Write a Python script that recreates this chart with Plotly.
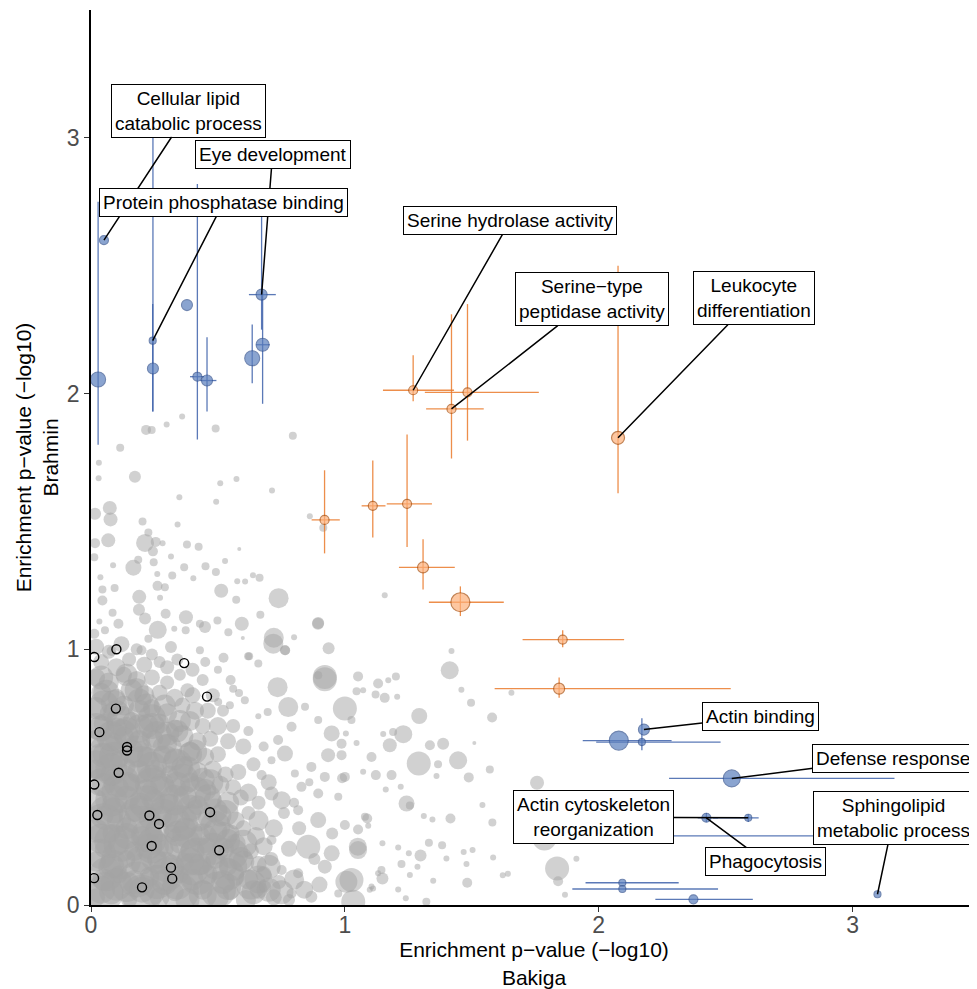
import plotly.graph_objects as go

# ---------------- data ----------------
# background GO terms (x = Bakiga -log10 p, y = Brahmin -log10 p, s = term size)
grey_core = [
(0.02,0.03,9),(0.08,0.05,12),(0.15,0.02,8),(0.20,0.06,13),(0.27,0.03,10),(0.33,0.05,9),(0.38,0.02,12),(0.44,0.06,10),(0.50,0.03,11),(0.55,0.05,8),(0.61,0.02,10),(0.66,0.06,9),(0.72,0.03,8),(0.78,0.02,6),
(0.05,0.10,11),(0.11,0.12,9),(0.17,0.09,12),(0.23,0.11,10),(0.29,0.09,13),(0.35,0.12,9),(0.40,0.10,11),(0.46,0.12,10),(0.52,0.09,12),(0.57,0.11,9),(0.62,0.10,10),(0.68,0.12,8),(0.74,0.09,7),
(0.02,0.17,10),(0.08,0.15,13),(0.14,0.18,9),(0.20,0.16,11),(0.26,0.18,10),(0.32,0.15,12),(0.37,0.17,9),(0.43,0.16,11),(0.49,0.18,10),(0.54,0.15,9),(0.60,0.17,11),(0.66,0.16,8),(0.71,0.18,7),
(0.05,0.22,9),(0.11,0.24,11),(0.17,0.21,10),(0.23,0.23,13),(0.29,0.22,9),(0.35,0.24,10),(0.40,0.21,12),(0.46,0.23,9),(0.52,0.22,11),(0.57,0.24,10),(0.63,0.21,8),(0.68,0.23,9),
(0.02,0.29,12),(0.08,0.28,9),(0.14,0.30,11),(0.20,0.27,10),(0.26,0.29,12),(0.32,0.28,9),(0.37,0.30,11),(0.43,0.27,10),(0.49,0.29,12),(0.55,0.28,9),(0.60,0.30,8),(0.65,0.27,9),
(0.05,0.35,10),(0.11,0.33,12),(0.17,0.36,9),(0.23,0.34,11),(0.28,0.35,10),(0.34,0.33,13),(0.40,0.36,9),(0.46,0.34,10),(0.51,0.35,11),(0.57,0.33,9),(0.62,0.36,7),
(0.02,0.41,11),(0.08,0.40,9),(0.14,0.42,12),(0.19,0.39,10),(0.25,0.41,11),(0.31,0.40,9),(0.37,0.42,12),(0.42,0.39,10),(0.48,0.41,9),(0.54,0.40,11),(0.59,0.42,8),
(0.05,0.47,12),(0.11,0.46,10),(0.16,0.48,9),(0.22,0.45,11),(0.28,0.47,12),(0.34,0.46,9),(0.39,0.48,10),(0.45,0.45,11),(0.51,0.47,9),(0.56,0.46,8),
(0.02,0.53,10),(0.08,0.51,11),(0.14,0.54,9),(0.19,0.52,12),(0.25,0.53,10),(0.31,0.51,9),(0.36,0.54,11),(0.42,0.52,10),(0.48,0.53,9),(0.53,0.51,8),
(0.05,0.59,11),(0.11,0.57,9),(0.16,0.60,12),(0.22,0.58,10),(0.28,0.59,9),(0.33,0.57,11),(0.39,0.60,10),(0.45,0.58,9),(0.50,0.59,8),
(0.02,0.65,9),(0.08,0.63,12),(0.13,0.66,10),(0.19,0.64,11),(0.25,0.65,9),(0.30,0.63,10),(0.36,0.66,11),(0.42,0.64,9),(0.47,0.65,8),
(0.05,0.71,10),(0.10,0.69,11),(0.16,0.72,9),(0.22,0.70,12),(0.27,0.71,10),(0.33,0.69,9),(0.39,0.72,10),(0.44,0.70,8),
(0.02,0.77,11),(0.07,0.75,9),(0.13,0.78,10),(0.19,0.76,11),(0.24,0.77,9),(0.30,0.75,10),(0.36,0.78,8),(0.41,0.76,9),
(0.04,0.83,10),(0.10,0.81,9),(0.16,0.84,11),(0.21,0.82,10),(0.27,0.83,8),(0.33,0.81,9),(0.38,0.84,7),
(0.02,0.89,9),(0.07,0.87,10),(0.13,0.90,8),(0.18,0.88,9),(0.24,0.89,8),(0.30,0.87,7),(0.35,0.90,6),
(0.04,0.95,8),(0.10,0.93,9),(0.15,0.96,7),(0.21,0.94,8),(0.27,0.95,6),
(0.02,1.01,8),(0.07,0.99,7),(0.12,1.02,8),(0.18,1.00,6),(0.24,0.98,6),
(0.04,0.06,14),(0.14,0.07,15),(0.24,0.05,13),(0.34,0.08,15),(0.44,0.04,14),(0.54,0.07,13),(0.64,0.05,12),
(0.09,0.16,14),(0.19,0.18,13),(0.29,0.15,15),(0.39,0.17,14),(0.49,0.15,13),(0.59,0.18,12),
(0.04,0.26,15),(0.14,0.27,13),(0.24,0.25,14),(0.34,0.28,13),(0.44,0.26,15),(0.54,0.25,12),
(0.09,0.37,13),(0.19,0.38,15),(0.29,0.36,14),(0.39,0.38,13),(0.49,0.37,12),
(0.04,0.48,14),(0.14,0.47,13),(0.24,0.49,15),(0.34,0.47,13),(0.44,0.49,12),
(0.09,0.58,15),(0.19,0.59,13),(0.29,0.57,14),(0.39,0.59,12),
(0.04,0.69,13),(0.14,0.68,14),(0.24,0.70,13),(0.34,0.68,11),
(0.09,0.79,13),(0.19,0.80,12),(0.29,0.78,11),
(0.04,0.89,12),(0.14,0.90,11),
(0.06,0.12,17),(0.18,0.10,18),(0.30,0.12,17),(0.42,0.11,18),(0.54,0.12,16),(0.66,0.10,14),
(0.12,0.24,18),(0.24,0.23,17),(0.36,0.24,18),(0.48,0.22,16),(0.60,0.24,14),
(0.06,0.36,17),(0.18,0.35,18),(0.30,0.37,17),(0.42,0.35,16),(0.53,0.36,13),
(0.12,0.48,18),(0.24,0.47,17),(0.36,0.49,16),(0.47,0.48,13),
(0.06,0.60,17),(0.18,0.60,16),(0.30,0.61,15),(0.41,0.60,12),
(0.12,0.72,15),(0.24,0.73,14),(0.35,0.72,11),
(0.06,0.83,13),(0.18,0.84,12),
(0.04,0.20,15),(0.02,0.55,14),(0.02,0.70,13),
(0.05,0.05,20),(0.20,0.04,20),(0.35,0.05,19),(0.50,0.06,18),(0.63,0.08,15),
(0.12,0.18,20),(0.27,0.20,20),(0.42,0.19,19),(0.56,0.20,15),
(0.05,0.32,20),(0.20,0.31,20),(0.35,0.32,18),(0.49,0.31,15),
(0.12,0.44,20),(0.27,0.43,19),(0.41,0.44,16),
(0.05,0.56,19),(0.20,0.55,18),(0.34,0.55,15),
(0.12,0.66,17),(0.26,0.66,15),
(0.05,0.78,15),(0.70,0.15,12),(0.75,0.05,12),(0.80,0.10,10),(0.66,0.33,10),
(0.10,0.08,16),(0.26,0.09,17),(0.40,0.14,16),(0.56,0.15,14),(0.70,0.06,12),
(0.08,0.25,17),(0.22,0.27,16),(0.38,0.28,15),(0.52,0.27,14),
(0.08,0.41,16),(0.22,0.40,17),(0.33,0.41,15),(0.46,0.42,13),
(0.08,0.53,16),(0.24,0.54,15),(0.38,0.53,13),
(0.08,0.66,15),(0.19,0.69,14),(0.30,0.67,12),
(0.10,0.75,13),(0.22,0.78,12),
]

grey_mid = [
(0.72,0.30,9),(0.78,0.22,8),(0.82,0.30,7),(0.76,0.36,6),(0.70,0.48,8),(0.64,0.55,7),(0.60,0.62,8),(0.56,0.70,7),(0.52,0.76,6),(0.48,0.82,7),
(0.44,0.88,6),(0.40,0.92,7),(0.34,0.96,6),(0.84,0.06,9),(0.90,0.08,8),(0.88,0.18,6),(0.95,0.28,6),(0.62,0.44,9),(0.58,0.52,8),(0.66,0.40,7),
(0.54,0.64,8),(0.50,0.70,9),(0.46,0.76,8),(0.40,0.82,8),(0.30,0.93,7),(0.80,0.40,5),(0.86,0.48,4),(0.68,0.62,5),(0.62,0.68,5),(0.55,0.88,5),
(0.50,0.92,4),(0.45,0.95,5),
]

grey_halo = [
(0.359,1.910,3),(0.298,1.879,3),(0.217,1.858,5),(0.239,1.858,4),(0.491,1.863,4),(0.795,1.835,4),(0.115,1.788,4),(0.031,1.729,3),(0.030,1.669,3),(0.173,1.675,6),
(0.509,1.649,3),(0.573,1.666,3),(0.713,1.621,3),(0.348,1.595,3),(0.493,1.577,3),(0.074,1.553,7),(0.016,1.53,6),(0.077,1.508,7),(0.203,1.5,4),(0.341,1.488,3),
(0.226,1.457,4),(0.068,1.426,7),(0.213,1.416,9),(0.255,1.420,5),(0.016,1.415,5),(0.244,1.383,5),(0.378,1.410,4),(0.424,1.401,4),(0.282,1.415,3),(0.584,1.392,2),
(0.013,1.36,4),(0.186,1.35,4),(0.315,1.363,3),(0.087,1.329,3),(0.167,1.319,8),(0.247,1.34,4),(0.367,1.321,4),(0.528,1.345,3),(0.451,1.325,4),(0.492,1.302,4),
(0.32,1.289,4),(0.261,1.294,3),(0.403,1.278,3),(0.638,1.29,3),(0.664,1.28,4),(0.576,1.266,3),(0.607,1.265,3),(0.037,1.282,3),(0.093,1.24,4),(0.045,1.234,4),
(0.262,1.248,5),(0.291,1.243,4),(0.513,1.229,7),(0.739,1.2,10),(0.190,1.205,7),(0.045,1.191,5),(0.572,1.194,4),(1.157,1.211,3),(0.272,1.202,3),(0.085,1.143,4),
(0.189,1.155,6),(0.294,1.139,5),(0.374,1.125,7),(0.667,1.135,4),(0.894,1.1,6),(0.594,1.1,7),(0.72,1.045,10),(0.80,1.047,3),(0.936,1.004,6),(0.498,1.113,4),
(0.449,1.087,6),(0.429,1.1,4),(0.108,1.1,5),(0.033,1.109,3),(0.213,1.12,6),(0.263,1.076,9),(0.328,1.08,3),(0.373,1.074,4),(0.541,1.067,4),(0.598,1.044,2),
(0.055,1.074,4),(0.013,1.061,5),(0.226,1.041,4),(0.315,1.009,6),(0.429,0.996,4),(0.522,0.967,5),(0.623,0.973,4),(0.765,0.996,5),(0.199,0.996,5),(0.081,0.993,5),
(0.862,1.52,3),(0.915,1.475,4),(0.895,1.103,6),(1.42,0.993,3),(1.413,0.918,9),(0.921,0.883,12),(1.052,0.894,5),(1.131,0.866,5),(1.171,0.879,3),(1.201,0.894,4),
(1.046,0.836,4),(1.072,0.840,3),(1.121,0.823,4),(1.157,0.81,5),(1.206,0.814,3),(1.459,0.842,3),(1.497,0.791,4),(1.656,0.83,3),(1.0,0.768,12),(1.293,0.739,8),
(1.580,0.733,5),(0.948,0.671,8),(1.004,0.671,3),(1.151,0.669,3),(1.23,0.668,9),(1.19,0.677,4),(1.177,0.625,7),(1.046,0.634,3),(1.335,0.625,5),(1.387,0.631,6),
(1.51,0.634,2),(1.105,0.579,5),(1.291,0.553,12),(1.446,0.566,9),(1.367,0.55,4),(1.488,0.499,5),(1.571,0.53,4),(0.989,0.496,5),(1.072,0.521,3),(1.122,0.508,5),
(1.184,0.508,5),(1.361,0.504,3),(1.161,0.452,3),(1.220,0.462,3),(1.243,0.397,8),(1.256,0.389,4),(1.088,0.338,5),(1.052,0.295,5),(1.311,0.348,3),(1.345,0.334,3),
(1.416,0.338,5),(1.542,0.391,3),(1.581,0.323,4),(1.757,0.478,7),(1.739,0.41,4),(1.051,0.228,9),(1.148,0.241,3),(1.21,0.225,3),(1.252,0.202,3),(1.298,0.194,6),
(1.331,0.243,4),(1.383,0.234,4),(1.400,0.182,3),(1.468,0.207,3),(1.503,0.215,3),(1.479,0.16,3),(1.584,0.186,3),(1.223,0.16,4),(1.286,0.15,3),(1.144,0.137,4),
(1.148,0.104,6),(1.006,0.091,11),(1.256,0.117,3),(1.348,0.095,3),(1.482,0.087,5),(1.622,0.116,3),(1.642,0.122,3),(1.836,0.143,12),(1.840,0.093,5),(1.867,0.04,3),
(1.786,0.26,12),(1.912,0.181,3),(1.033,0.013,12),(1.321,0.013,4),(1.21,0.061,3),(1.240,0.026,3),(1.111,0.065,3),(1.098,0.06,3),
(0.718,1.022,10),(0.619,0.973,4),(0.659,0.944,4),(0.764,0.996,5),(0.921,0.892,12),(0.895,0.898,4),(0.735,0.852,10),(0.777,0.774,10),(0.696,0.755,4),(0.659,0.738,3),
(0.606,0.801,4),(0.560,0.846,4),(0.547,0.781,4),(0.501,0.794,4),(0.583,0.829,4),(0.843,0.775,4),(0.895,0.723,4),(1.026,0.723,4),(0.934,0.586,7),(0.987,0.586,5),
(0.987,0.631,5),(0.79,0.697,5),(0.737,0.645,5),(0.764,0.592,8),(0.711,0.566,4),(0.672,0.508,5),(0.803,0.514,4),(0.868,0.54,5),(0.921,0.501,5),(1.0,0.501,5),
(0.829,0.462,5),(0.711,0.436,7),(0.751,0.41,9),(0.895,0.436,5),(0.974,0.423,4),(0.895,0.332,8),(0.816,0.371,5),(1.0,0.313,5),(1.092,0.31,3),(1.079,0.345,4),
(0.856,0.228,12),(0.948,0.202,8),(1.052,0.215,9),(1.026,0.098,12),(0.921,0.15,7),(0.816,0.124,5),(0.974,0.045,4),(1.105,0.072,3),(1.131,0.124,3),(0.711,0.254,5),
(0.751,0.137,5),(0.685,0.072,6),(0.79,0.045,5),(0.868,0.032,6),
]

# highlighted terms without replication (open circles)
open_x = [0.10,0.013,0.367,0.457,0.098,0.033,0.142,0.142,0.109,0.013,0.025,0.230,0.469,0.268,0.239,0.505,0.315,0.32,0.012,0.201]
open_y = [1.0,0.97,0.946,0.815,0.768,0.676,0.618,0.604,0.517,0.471,0.352,0.35,0.363,0.317,0.231,0.214,0.146,0.103,0.105,0.069]

# blue terms: point, size and 95% bounds
blue_x    = [0.051,0.028,0.243,0.244,0.378,0.419,0.457,0.635,0.676,0.672,2.178,2.170,2.079,2.524,2.424,2.589,2.16,2.093,2.093,2.373,3.098]
blue_y    = [2.60,2.055,2.207,2.098,2.346,2.066,2.051,2.138,2.191,2.387,0.686,0.637,0.643,0.495,0.341,0.341,0.27,0.087,0.0625,0.022,0.042]
blue_size = [4,7,3,5,5,4,5,7,6,5,5,3,9,8,4,3,3,3,3,4,3]
blue_xlo  = [0.051,0.028,0.243,0.244,0.378,0.39,0.43,0.635,0.651,0.622,2.178,1.99,1.937,2.277,2.39,2.45,1.95,1.948,1.896,2.223,3.098]
blue_xhi  = [0.051,0.028,0.243,0.244,0.378,0.445,0.494,0.635,0.704,0.728,2.178,2.48,2.287,3.165,2.47,2.63,3.0,2.315,2.47,2.607,3.098]
blue_ylo  = [2.60,1.80,1.93,1.93,2.346,1.82,1.93,2.04,1.96,2.25,0.686,0.605,0.643,0.495,0.325,0.325,0.27,0.087,0.0625,0.022,0.042]
blue_yhi  = [2.60,2.75,2.35,3.05,2.346,2.82,2.22,2.27,2.40,2.75,0.686,0.73,0.643,0.495,0.36,0.355,0.27,0.087,0.0625,0.022,0.042]

# orange terms
orange_x    = [1.269,1.42,1.483,2.076,0.92,1.11,1.245,1.308,1.455,1.858,1.844]
orange_y    = [2.013,1.94,2.005,1.827,1.506,1.561,1.569,1.32,1.184,1.038,0.846]
orange_size = [4,4,4,6,4,4,4,5,9,4,5]
orange_xlo  = [1.15,1.32,1.315,2.076,0.869,1.066,1.165,1.213,1.331,1.70,1.59]
orange_xhi  = [1.43,1.547,1.764,2.076,0.98,1.160,1.343,1.433,1.626,2.10,2.52]
orange_ylo  = [1.97,1.746,1.816,1.61,1.375,1.437,1.40,1.234,1.13,1.008,0.81]
orange_yhi  = [2.15,2.31,2.35,2.5,1.70,1.738,1.84,1.43,1.246,1.074,0.89]

# labels: text, labelled point (x, y)
label_text = ["Cellular lipid<br>catabolic process", "Eye development", "Protein phosphatase binding",
              "Serine hydrolase activity", "Serine\u2212type<br>peptidase activity", "Leukocyte<br>differentiation",
              "Actin binding", "Defense response", "Actin cytoskeleton<br>reorganization",
              "Sphingolipid<br>metabolic process", "Phagocytosis"]
label_px = [0.051,0.672,0.243,1.269,1.42,2.076,2.178,2.524,2.589,3.098,2.424]
label_py = [2.60,2.387,2.207,2.013,1.94,1.827,0.686,0.495,0.341,0.042,0.341]
# label box centres (layout)
label_bx = [0.386,0.715,0.522,1.652,1.972,2.610,2.636,3.161,1.980,3.161,2.656]
label_by = [3.107,2.933,2.748,2.676,2.369,2.373,0.738,0.574,0.344,0.340,0.170]

tick_vals = [0, 1, 2, 3]

# ---------------- figure ----------------
FONT = "Liberation Sans, Arial, Helvetica, sans-serif"
fig = go.Figure()

for grp in (grey_core, grey_mid, grey_halo):
    fig.add_trace(go.Scatter(
        x=[p[0] for p in grp], y=[p[1] for p in grp], mode="markers",
        marker=dict(size=[2 * p[2] for p in grp], color="#a3a3a3", opacity=0.5, line=dict(width=0)),
        hoverinfo="skip", showlegend=False))

fig.add_trace(go.Scatter(
    x=open_x, y=open_y, mode="markers",
    marker=dict(symbol="circle-open", size=9, color="black", line=dict(width=1.4)),
    showlegend=False))


def err(v, lo, hi):
    return [h - c for c, h in zip(v, hi)], [c - l for c, l in zip(v, lo)]


ox_p, ox_m = err(orange_x, orange_xlo, orange_xhi)
oy_p, oy_m = err(orange_y, orange_ylo, orange_yhi)
fig.add_trace(go.Scatter(
    x=orange_x, y=orange_y, mode="markers",
    error_x=dict(type="data", symmetric=False, array=ox_p, arrayminus=ox_m, width=0, thickness=1.3, color="rgba(234,122,44,0.85)"),
    error_y=dict(type="data", symmetric=False, array=oy_p, arrayminus=oy_m, width=0, thickness=1.3, color="rgba(234,122,44,0.85)"),
    marker=dict(size=[2 * s + 1 for s in orange_size], color="#fdb07a", line=dict(color="#a9500f", width=1.2)),
    showlegend=False))

bx_p, bx_m = err(blue_x, blue_xlo, blue_xhi)
by_p, by_m = err(blue_y, blue_ylo, blue_yhi)
fig.add_trace(go.Scatter(
    x=blue_x, y=blue_y, mode="markers",
    error_x=dict(type="data", symmetric=False, array=bx_p, arrayminus=bx_m, width=0, thickness=1.3, color="rgba(62,98,170,0.85)"),
    error_y=dict(type="data", symmetric=False, array=by_p, arrayminus=by_m, width=0, thickness=1.3, color="rgba(62,98,170,0.85)"),
    marker=dict(size=[2 * s + 1 for s in blue_size], color="#5a7ebd", line=dict(color="#34538f", width=1.1)),
    showlegend=False))

for t, px, py, bx, by in zip(label_text, label_px, label_py, label_bx, label_by):
    fig.add_annotation(x=px, y=py, ax=bx, ay=by, axref="x", ayref="y", xref="x", yref="y",
                       text=t, showarrow=True, arrowhead=0, arrowwidth=1.5, arrowcolor="black",
                       standoff=0, startstandoff=0,
                       font=dict(family=FONT, size=19, color="black"),
                       bgcolor="white", bordercolor="black", borderwidth=1, borderpad=3)

axis_common = dict(showgrid=False, zeroline=False, showline=True, linecolor="black", linewidth=1.6,
                   ticks="outside", ticklen=5, tickwidth=1.2, tickcolor="#333333", automargin=False,
                   tickvals=tick_vals, tickfont=dict(family=FONT, size=23, color="#4d4d4d"))
fig.update_xaxes(range=[0, 3.49], ticklabelstandoff=-6,
                 title=dict(text="Enrichment p\u2212value (\u2212log10)<br>Bakiga",
                            font=dict(family=FONT, size=21, color="black"), standoff=2), **axis_common)
fig.update_yaxes(range=[0, 3.5], title=dict(text="Enrichment p\u2212value (\u2212log10)<br>Brahmin",
                 font=dict(family=FONT, size=21, color="black"), standoff=2), **axis_common)

# the page body adds an 8px offset, so the figure is 8px smaller and the margins shifted
fig.update_layout(width=969, height=981, margin=dict(l=83, r=0, t=2, b=84),
                  plot_bgcolor="white", paper_bgcolor="white", font=dict(family=FONT))

fig.write_html("out.html")
